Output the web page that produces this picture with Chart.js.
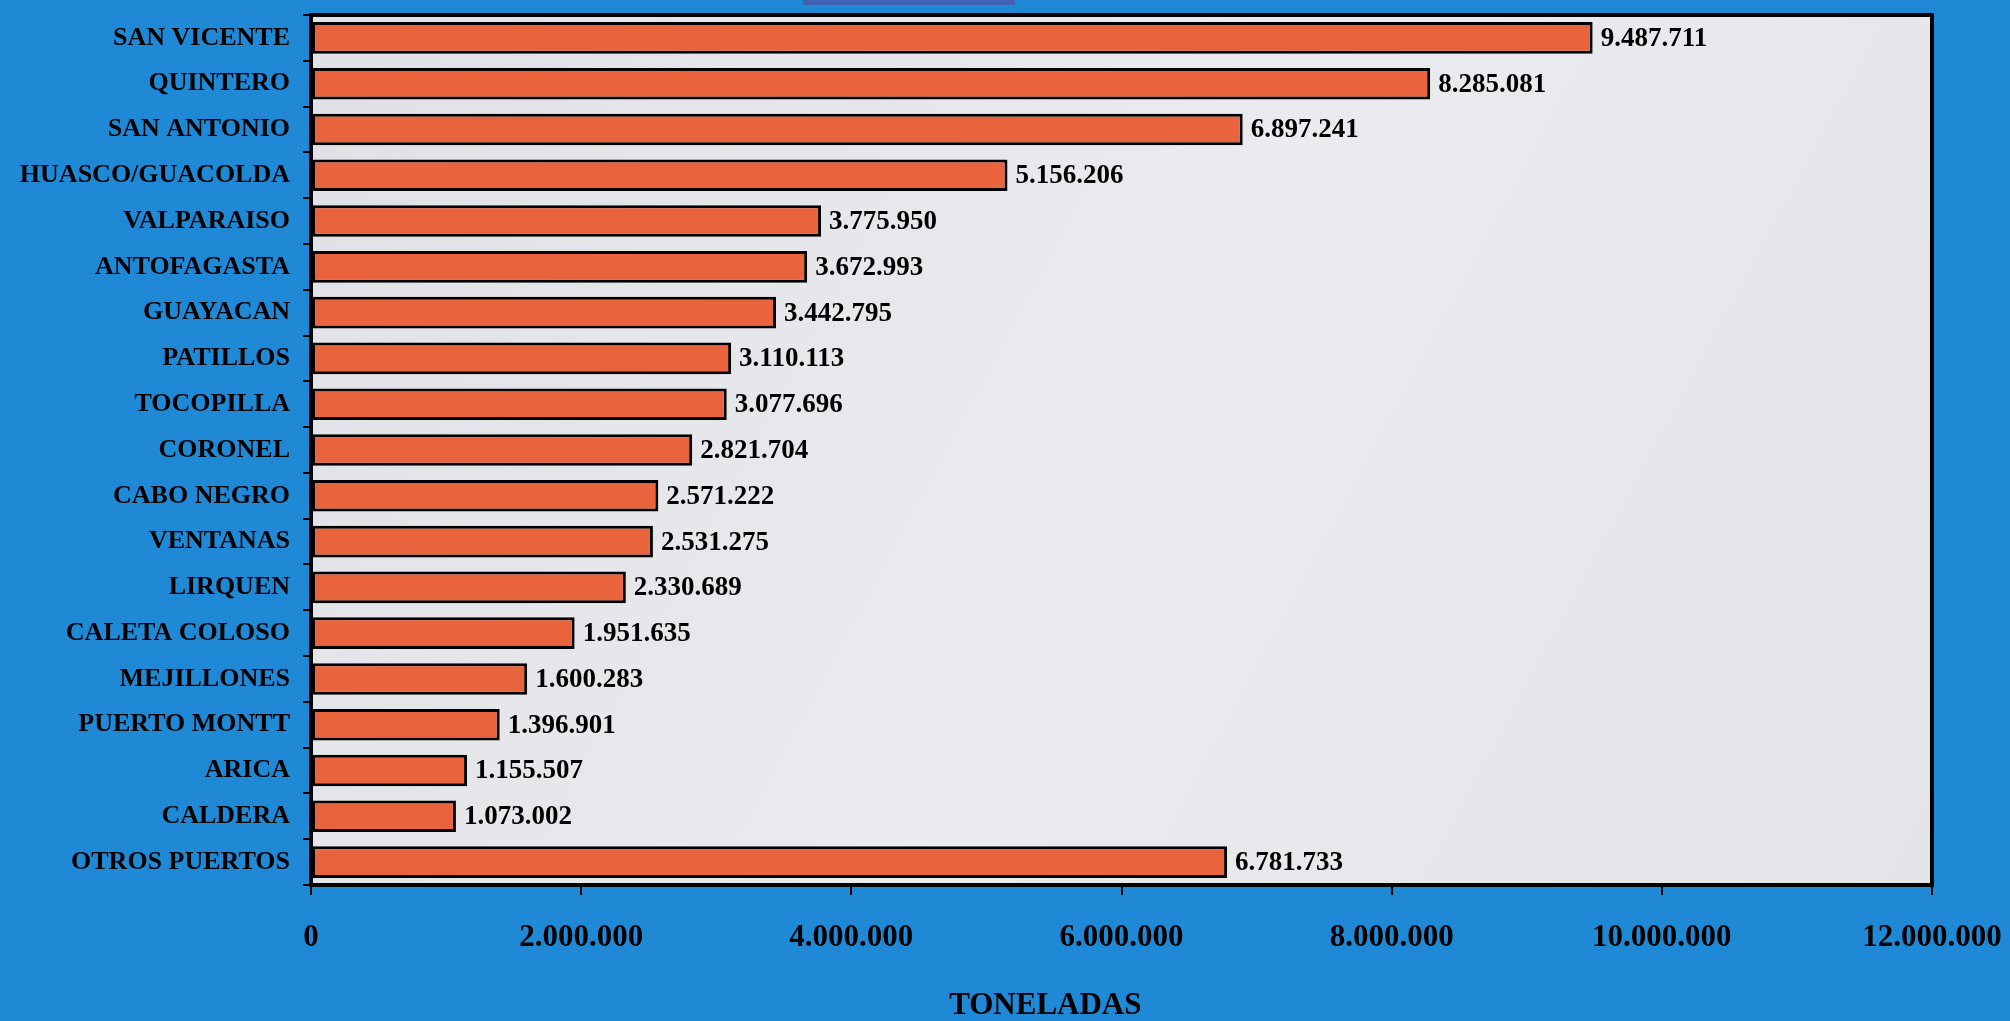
<!DOCTYPE html>
<html>
<head>
<meta charset="utf-8">
<script src="https://cdn.jsdelivr.net/npm/chart.js@4.4.1/dist/chart.umd.min.js"></script>
<style>
  html, body { margin: 0; padding: 0; background: #2089d6; }
  #wrap { width: 2010px; height: 1021px; }
</style>
</head>
<body>
<div id="wrap"><canvas id="chart" width="2010" height="1021"></canvas></div>
<script>
//-----------------------------------------------------------------------------
// Data
const ports = [
  'SAN VICENTE', 'QUINTERO', 'SAN ANTONIO', 'HUASCO/GUACOLDA', 'VALPARAISO',
  'ANTOFAGASTA', 'GUAYACAN', 'PATILLOS', 'TOCOPILLA', 'CORONEL',
  'CABO NEGRO', 'VENTANAS', 'LIRQUEN', 'CALETA COLOSO', 'MEJILLONES',
  'PUERTO MONTT', 'ARICA', 'CALDERA', 'OTROS PUERTOS'
];
const tons = [
  9487711, 8285081, 6897241, 5156206, 3775950,
  3672993, 3442795, 3110113, 3077696, 2821704,
  2571222, 2531275, 2330689, 1951635, 1600283,
  1396901, 1155507, 1073002, 6781733
];
const xTicks = [0, 2000000, 4000000, 6000000, 8000000, 10000000, 12000000];
const axisTitle = 'TONELADAS';

//-----------------------------------------------------------------------------
// Helpers
const SERIF = '"Liberation Serif", "Times New Roman", serif';

function fmt(n) {
  return String(n).replace(/\B(?=(\d{3})+(?!\d))/g, '.');
}

//-----------------------------------------------------------------------------
// Plugins
const backdrop = {
  id: 'backdrop',
  beforeDraw(chart) {
    const { ctx, chartArea: a } = chart;
    ctx.save();
    ctx.fillStyle = '#2089d6';
    ctx.fillRect(0, 0, chart.width, chart.height);
    // cropped title box at the very top
    ctx.fillStyle = '#4061b4';
    ctx.fillRect(803, 0, 212, 5);
    // plot area, pale marble-like fill
    const g = ctx.createLinearGradient(a.left, a.top, a.right, a.bottom);
    g.addColorStop(0, '#dfe1e6');
    g.addColorStop(0.5, '#e9ebee');
    g.addColorStop(1, '#e2e4e8');
    ctx.fillStyle = g;
    ctx.fillRect(a.left, a.top, a.right - a.left, a.bottom - a.top);
    ctx.restore();
  },
  afterDraw(chart) {
    const { ctx, chartArea: a } = chart;
    ctx.save();
    ctx.strokeStyle = '#000';
    ctx.lineWidth = 4;
    ctx.strokeRect(a.left, a.top, a.right - a.left, a.bottom - a.top);
    // axis title
    ctx.fillStyle = '#000';
    ctx.font = 'bold 31px ' + SERIF;
    ctx.textAlign = 'center';
    ctx.textBaseline = 'middle';
    ctx.fillText(axisTitle, a.left + (a.right - a.left) * 0.453, 1006);
    ctx.restore();
  }
};

const valueLabels = {
  id: 'valueLabels',
  afterDatasetsDraw(chart) {
    const { ctx } = chart;
    const meta = chart.getDatasetMeta(0);
    ctx.save();
    ctx.fillStyle = '#000';
    ctx.font = 'bold 27px ' + SERIF;
    ctx.textAlign = 'left';
    ctx.textBaseline = 'middle';
    meta.data.forEach(function(bar, i) {
      ctx.fillText(fmt(tons[i]), bar.x + 8, bar.y + 1);
    });
    ctx.restore();
  }
};

//-----------------------------------------------------------------------------
// Chart
new Chart(document.getElementById('chart'), {
  type: 'bar',
  data: {
    labels: ports,
    datasets: [{
      data: tons,
      backgroundColor: '#e9633d',
      borderColor: '#000',
      borderWidth: 3,
      borderSkipped: false,
      categoryPercentage: 1,
      barPercentage: 0.69
    }]
  },
  options: {
    indexAxis: 'y',
    responsive: false,
    animation: false,
    events: [],
    layout: { padding: { top: 15, right: 78, left: 0, bottom: 0 } },
    plugins: {
      legend: { display: false },
      tooltip: { enabled: false }
    },
    scales: {
      x: {
        min: 0,
        max: 12000000,
        afterBuildTicks(scale) {
          scale.ticks = xTicks.map(function(v) { return { value: v }; });
        },
        afterFit(scale) {
          scale.height = 136;
          scale.paddingLeft = 0;
          scale.paddingRight = 0;
        },
        border: { display: false },
        grid: { drawOnChartArea: false, color: '#000', lineWidth: 2, tickLength: 10 },
        ticks: {
          color: '#000',
          padding: 24,
          maxRotation: 0,
          font: { family: SERIF, size: 31, weight: 'bold' },
          callback: function(v) { return fmt(v); }
        }
      },
      y: {
        afterFit(scale) {
          scale.width = 311;
          scale.paddingTop = 0;
          scale.paddingBottom = 0;
        },
        border: { display: false },
        grid: { drawOnChartArea: false, color: '#000', lineWidth: 2, tickLength: 8, offset: true },
        ticks: {
          color: '#000',
          padding: 13,
          font: { family: SERIF, size: 26, weight: 'bold' }
        }
      }
    }
  },
  plugins: [backdrop, valueLabels]
});
</script>
</body>
</html>
